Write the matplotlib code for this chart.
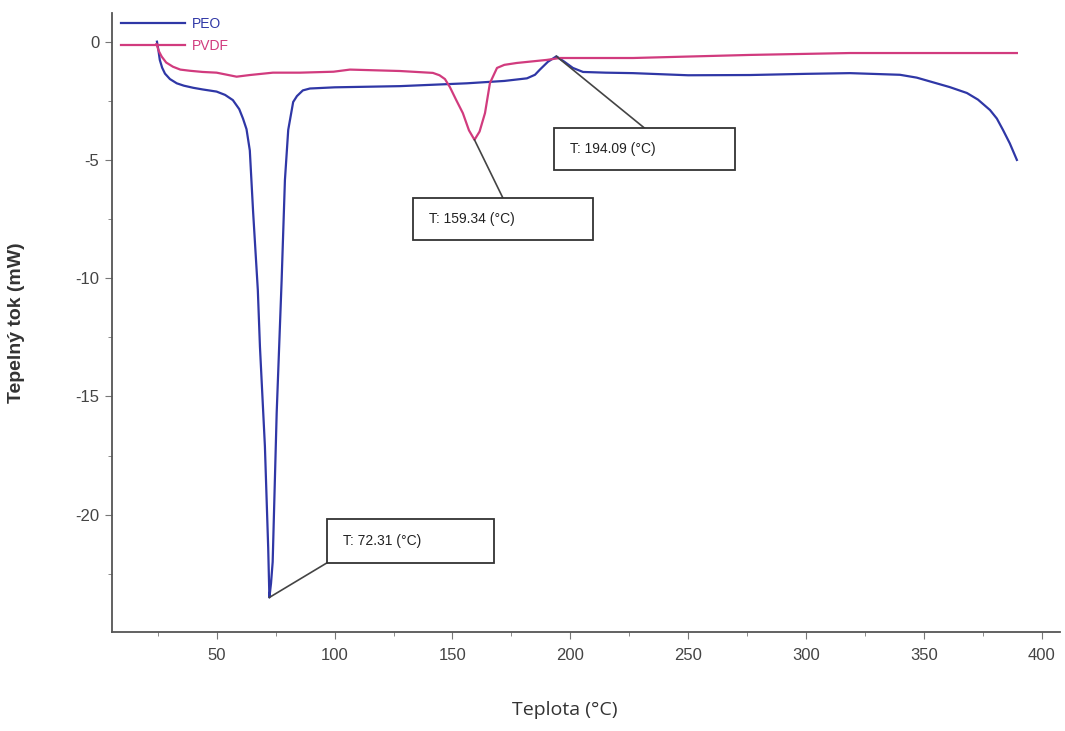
import numpy as np
import matplotlib
matplotlib.use("Agg")
import matplotlib.pyplot as plt
from matplotlib.patches import Rectangle
from matplotlib.ticker import MultipleLocator

# DSC curves: temperature (degC) and heat flow (mW)
peo_t = [24.6, 25.2, 25.8, 26.8, 28.0, 30.1, 33.0, 36.0, 40.0, 44.0, 49.9, 53.5, 56.8, 59.5, 61.1, 62.6,
         64.0, 65.4, 67.4, 68.3, 70.4, 71.8, 72.31, 73.0, 73.7, 75.4, 77.5, 78.9,
         80.3, 82.4, 84.0, 86.5, 89.5, 93.7, 100.0, 127.7, 156.1, 172.0, 181.6,
         185.0, 187.1, 190.5, 194.09, 197.5, 201.1, 205.4, 215.0, 226.6, 250.0,
         276.2, 300.0, 318.7, 339.9, 347.0, 354.0, 361.0, 368.3, 373.0, 378.1,
         381.0, 383.6, 386.5, 389.5]
peo_q = [0.0, -0.35, -0.77, -1.10, -1.35, -1.58, -1.76, -1.86, -1.95, -2.02, -2.11, -2.25, -2.47, -2.85, -3.25, -3.7,
         -4.6, -7.2, -10.5, -12.9, -17.1, -21.4, -23.5, -22.9, -22.0, -15.7, -10.1, -5.85,
         -3.73, -2.55, -2.30, -2.06, -1.98, -1.96, -1.93, -1.88, -1.76, -1.66, -1.55,
         -1.40, -1.18, -0.85, -0.62, -0.85, -1.11, -1.28, -1.31, -1.33, -1.42,
         -1.41, -1.36, -1.33, -1.40, -1.52, -1.72, -1.92, -2.17, -2.45, -2.89,
         -3.25, -3.73, -4.30, -5.0]

pvdf_t = [24.4, 25.4, 26.6, 28.5, 31.4, 34.5, 38.6, 44.0, 49.9, 58.4, 64.0, 73.8, 85.3, 99.5,
          106.5, 127.7, 141.7, 144.5, 146.8, 148.9, 151.5, 154.4, 157.0, 159.34,
          161.5, 163.8, 165.9, 168.9, 172.0, 177.3, 190.1, 195.6, 226.6, 276.2,
          318.7, 389.5]
pvdf_q = [-0.10, -0.40, -0.63, -0.88, -1.06, -1.18, -1.23, -1.28, -1.31, -1.48, -1.41, -1.31, -1.31, -1.27,
          -1.18, -1.24, -1.32, -1.42, -1.58, -1.92, -2.45, -3.02, -3.75, -4.15,
          -3.80, -3.02, -1.75, -1.11, -0.98, -0.90, -0.77, -0.69, -0.69, -0.56,
          -0.48, -0.48]

peo_color = '#2f37a6'
pvdf_color = '#d13b7e'

plt.rcParams['font.family'] = ['Liberation Sans', 'DejaVu Sans']
plt.rcParams['axes.unicode_minus'] = False

fig = plt.figure(figsize=(10.65, 7.31), dpi=100)
ax = fig.add_axes([0.1049, 0.1358, 0.8904, 0.8460])

ax.plot(peo_t, peo_q, color=peo_color, lw=1.6, label='PEO')
ax.plot(pvdf_t, pvdf_q, color=pvdf_color, lw=1.6, label='PVDF')

ax.set_xlim(5.4, 407.8)
ax.set_ylim(-24.95, 1.2)
ax.xaxis.set_major_locator(MultipleLocator(50))
ax.xaxis.set_minor_locator(MultipleLocator(25))
ax.yaxis.set_major_locator(MultipleLocator(5))
ax.yaxis.set_minor_locator(MultipleLocator(2.5))
ax.set_xticks([50, 100, 150, 200, 250, 300, 350, 400])

for s in ['top', 'right']:
    ax.spines[s].set_visible(False)
for s in ['left', 'bottom']:
    ax.spines[s].set_color('#555555')
    ax.spines[s].set_linewidth(1.3)

ax.tick_params(which='both', direction='out', color='#777777', labelcolor='#444444',
               labelsize=12, pad=4)
ax.tick_params(which='major', length=5)
ax.tick_params(which='minor', length=3)
ax.tick_params(axis='x', pad=7)
ax.tick_params(axis='x', which='minor', labelbottom=False)

ax.set_xlabel('Teplota (°C)', fontsize=14, color='#333333', family=['Open Sans', 'DejaVu Sans'])
ax.xaxis.set_label_coords(0.478, -0.112)
ax.set_ylabel('Tepelný tok (mW)', fontsize=14, color='#333333', fontweight='bold')
ax.yaxis.set_label_coords(-0.091, 0.499)

leg = ax.legend(loc='upper left', bbox_to_anchor=(0.0, 1.01), frameon=False,
                handlelength=4.6, handletextpad=0.5, labelspacing=0.6,
                fontsize=10, labelcolor='linecolor', borderaxespad=0.3)

# annotation boxes: (peak temperature, peak value, box x0, box y0 (top), width, height, anchor)
notes = [
    (72.31, min(peo_q), 96.7, -20.18, 70.9, 1.86, 'corner'),
    (159.34, min(pvdf_q), 133.2, -6.61, 76.4, 1.78, 'top'),
    (194.09, -0.62, 193.0, -3.65, 76.9, 1.77, 'top'),
]
for t, q, bx, by, bw, bh, anchor in notes:
    ax.add_patch(Rectangle((bx, by - bh), bw, bh, facecolor='white',
                           edgecolor='#333333', lw=1.3, zorder=4))
    ax.text(bx + 6.8, by - bh / 2, f'T: {t:.2f} (°C)', fontsize=10,
            color='#222222', va='center', ha='left', zorder=5)
    if anchor == 'corner':
        ex, ey = bx, by - bh
    else:
        ex, ey = bx + bw / 2, by
    ax.plot([t, ex], [q, ey], color='#444444', lw=1.2, zorder=3)

fig.savefig('out.png', dpi=100)
